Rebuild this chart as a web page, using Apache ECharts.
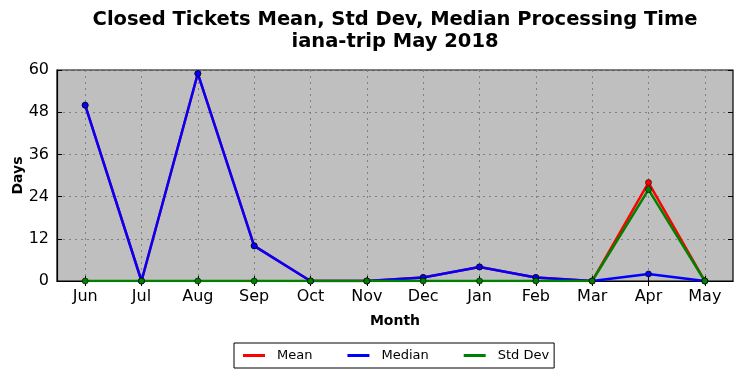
<!DOCTYPE html>
<html><head><meta charset="utf-8">
<script src="https://cdn.jsdelivr.net/npm/echarts@6/dist/echarts.min.js"></script>
<style>html,body{margin:0;padding:0;background:#fff}#c{width:742px;height:378px}</style>
</head><body><div id="c"></div>
<script>
const months = ['Jun','Jul','Aug','Sep','Oct','Nov','Dec','Jan','Feb','Mar','Apr','May'];
const meanVals = [50, 0, 59, 10, 0, 0, 1, 4, 1, 0, 28, 0];
const medianVals = [50, 0, 59, 10, 0, 0, 1, 4, 1, 0, 2, 0];
const stdVals = [0, 0, 0, 0, 0, 0, 0, 0, 0, 0, 26, 0];
const yTicks = [0, 12, 24, 36, 48, 60];

const font = 'DejaVu Sans';
const chart = echarts.init(document.getElementById('c'));
function ser(name, data, color) {
  return {
    name, type: 'line', data, xAxisIndex: 0, yAxisIndex: 0,
    symbol: 'circle', symbolSize: 6, showSymbol: true,
    lineStyle: { color, width: 2.5 },
    itemStyle: { color, borderColor: '#000', borderWidth: 0.6 },
    emphasis: { disabled: true }, animation: false
  };
}
chart.setOption({
  animation: false,
  backgroundColor: '#fff',
  title: {
    text: 'Closed Tickets Mean, Std Dev, Median Processing Time\niana-trip May 2018',
    left: 390, top: 4, textAlign: 'center',
    textStyle: { fontFamily: font, fontSize: 19.5, fontWeight: 'bold', color: '#000', lineHeight: 22 }
  },
  legend: {
    bottom: 10, left: 234,
    data: ['Mean', 'Median', 'Std Dev'],
    itemWidth: 22, itemHeight: 3, itemGap: 35,
    icon: 'rect',
    itemStyle: { borderWidth: 0 },
    borderColor: '#000', borderWidth: 1, borderRadius: 0,
    padding: [6, 5, 6, 9],
    textStyle: { fontFamily: font, fontSize: 13, color: '#000', padding: [0, 0, 0, 7] }
  },
  grid: { left: 57, right: 9, top: 70, bottom: 97, outerBoundsMode: 'none', containLabel: false, backgroundColor: '#bfbfbf', show: true, borderColor: '#000', borderWidth: 1.2 },
  xAxis: [{
    type: 'category', data: months, boundaryGap: true, position: 'bottom',
    name: 'Month', nameLocation: 'middle', nameGap: 33,
    nameTextStyle: { fontFamily: font, fontSize: 14, fontWeight: 'bold', color: '#000' },
    axisLine: { show: true, lineStyle: { color: '#000', width: 1.2 } },
    axisTick: { show: true, inside: true, alignWithLabel: true, length: 5, lineStyle: { color: '#000' } },
    axisLabel: { fontFamily: font, fontSize: 16, color: '#000', margin: 8 },
    splitLine: { show: true, alignWithLabel: true, lineStyle: { color: '#808080', type: [2, 4], width: 1 } }
  }, {
    type: 'category', data: months, boundaryGap: true, position: 'top',
    axisLine: { show: false },
    axisTick: { show: true, inside: true, alignWithLabel: true, length: 5, lineStyle: { color: '#000' } },
    axisLabel: { show: false }, splitLine: { show: false }
  }],
  yAxis: [{
    type: 'value', min: 0, max: 60, interval: 12,
    name: 'Days', nameLocation: 'middle', nameGap: 32, nameMoveOverlap: false,
    nameTextStyle: { fontFamily: font, fontSize: 14, fontWeight: 'bold', color: '#000' },
    axisLine: { show: true, lineStyle: { color: '#000', width: 1.2 } },
    axisTick: { show: true, inside: true, length: 5, lineStyle: { color: '#000' } },
    axisLabel: { fontFamily: font, fontSize: 16, color: '#000', margin: 8 },
    splitLine: { show: true, lineStyle: { color: '#808080', type: [2, 4], width: 1 } }
  }, {
    type: 'value', min: 0, max: 60, interval: 12, position: 'right',
    axisLine: { show: false },
    axisTick: { show: true, inside: true, length: 5, lineStyle: { color: '#000' } },
    axisLabel: { show: false }, splitLine: { show: false }
  }],
  series: [
    ser('Mean', meanVals, '#ff0000'),
    ser('Median', medianVals, '#0000ff'),
    ser('Std Dev', stdVals, '#008000')
  ]
});
</script></body></html>
